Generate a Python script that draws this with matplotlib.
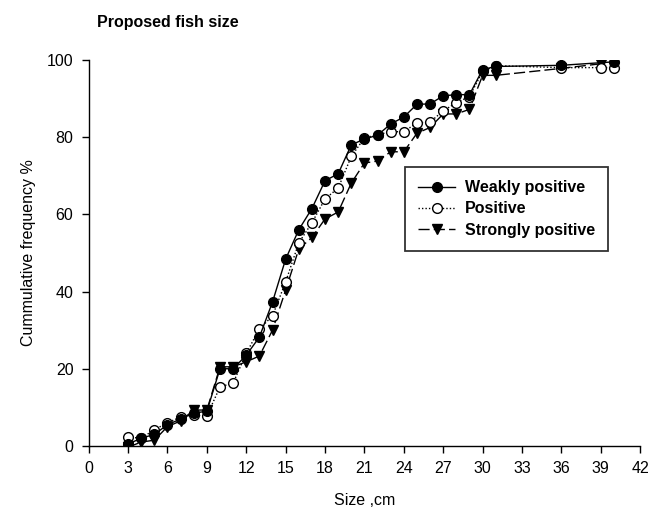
import matplotlib
matplotlib.use("Agg")
import matplotlib.pyplot as plt

plt.rcParams['font.family'] = ['Liberation Sans', 'DejaVu Sans']

sizes_weak = [3, 4, 5, 6, 7, 8, 9, 10, 11, 12, 13, 14, 15, 16, 17, 18, 19, 20, 21, 22, 23, 24, 25, 26, 27, 28, 29, 30, 31, 36, 40]
weak = [0.5, 2.0, 3.0, 5.5, 7.0, 8.5, 9.0, 20.0, 20.0, 23.5, 28.2, 37.3, 48.4, 56.0, 61.5, 68.7, 70.5, 78.0, 79.5, 80.5, 83.4, 85.2, 88.5, 88.6, 90.7, 91.0, 91.0, 97.5, 98.3, 98.6, 99.5]

sizes_pos = [3, 4, 5, 6, 7, 8, 9, 10, 11, 12, 13, 14, 15, 16, 17, 18, 19, 20, 21, 22, 23, 24, 25, 26, 27, 28, 29, 30, 31, 36, 39, 40]
pos = [2.3, 2.0, 4.2, 6.0, 7.5, 8.0, 7.8, 15.3, 16.3, 24.0, 30.3, 33.7, 42.5, 52.6, 57.8, 64.0, 66.8, 75.0, 79.8, 80.6, 81.4, 81.4, 83.7, 83.9, 86.8, 88.9, 90.5, 97.0, 98.5, 98.0, 98.0, 98.0]

sizes_strong = [3, 4, 5, 6, 7, 8, 9, 10, 11, 12, 13, 14, 15, 16, 17, 18, 19, 20, 21, 22, 23, 24, 25, 26, 27, 28, 29, 30, 31, 36, 39]
strong = [-0.3, 1.0, 1.5, 5.0, 6.5, 9.3, 9.3, 20.5, 20.5, 21.8, 23.3, 30.0, 40.4, 51.0, 54.0, 58.8, 60.6, 68.1, 73.3, 73.8, 76.2, 76.2, 81.0, 82.5, 86.0, 86.0, 87.2, 96.0, 96.0, 97.8, 99.0]

series_labels = ["Weakly positive", "Positive", "Strongly positive"]
x_ticks = list(range(0, 43, 3))
y_ticks = list(range(0, 101, 20))

fig = plt.figure(figsize=(6.62, 5.12), dpi=100)
ax = fig.add_axes([0.134, 0.129, 0.833, 0.754])

ms = 7.0
ax.plot(sizes_strong, strong, linestyle=(0, (8, 3)), color='black', lw=1.0,
        marker='v', markersize=ms + 0.5, markerfacecolor='black', markeredgecolor='black',
        label=series_labels[2], zorder=3)
ax.plot(sizes_pos, pos, linestyle=(0, (1, 1.5)), color='black', lw=1.0,
        marker='o', markersize=ms, markerfacecolor='white', markeredgecolor='black',
        markeredgewidth=1.0, label=series_labels[1], zorder=4)
ax.plot(sizes_weak, weak, linestyle='-', color='black', lw=1.0,
        marker='o', markersize=ms, markerfacecolor='black', markeredgecolor='black',
        label=series_labels[0], zorder=5)

ax.set_xlim(0, 42)
ax.set_ylim(0, 100)
ax.set_xticks(x_ticks)
ax.set_yticks(y_ticks)
ax.spines['top'].set_visible(False)
ax.spines['right'].set_visible(False)
ax.spines['left'].set_linewidth(1.0)
ax.spines['bottom'].set_linewidth(1.0)
ax.tick_params(direction='out', length=5, width=1.0, labelsize=11.5, pad=6)
for sp in ax.spines.values():
    sp.set_clip_on(False)

ax.set_xlabel("Size ,cm", fontsize=11.5, labelpad=12)
ax.set_ylabel("Cummulative frequency %", fontsize=11.5, labelpad=8)

fig.text(0.147, 0.957, "Proposed fish size", fontsize=11.5, fontweight='bold', ha='left', va='center')

handles, labels = ax.get_legend_handles_labels()
order = [2, 1, 0]
leg = ax.legend([handles[i] for i in order], [labels[i] for i in order],
                loc='upper left', bbox_to_anchor=(0.573, 0.723),
                prop={'weight': 'bold', 'size': 11.5}, frameon=True, fancybox=False,
                edgecolor='black', handlelength=2.3, borderpad=0.85, labelspacing=0.38,
                handletextpad=0.6, borderaxespad=0.0)
leg.get_frame().set_linewidth(1.3)

fig.savefig("out.png", dpi=100)
